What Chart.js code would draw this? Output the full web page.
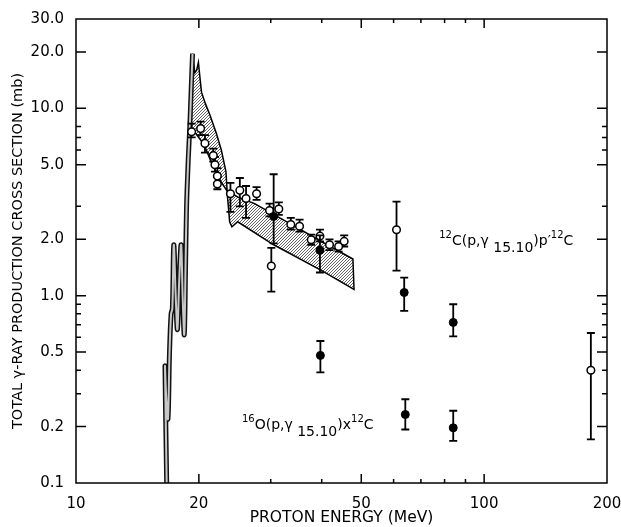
<!DOCTYPE html>
<html>
<head>
<meta charset="utf-8">
<script src="https://cdn.jsdelivr.net/npm/chart.js@4.4.1/dist/chart.umd.min.js"></script>
<style>
  html, body { margin: 0; padding: 0; background: #fff; }
</style>
</head>
<body>
<canvas id="xsec" width="621" height="527"></canvas>
<script>
// axis ticks
const xTicks = [10, 20, 50, 100, 200];
const xMinor = [30, 40, 60, 70, 80, 90];
const yTicks = [0.1, 0.2, 0.5, 1, 2, 5, 10, 20, 30];
const yMinor = [0.3, 0.4, 0.6, 0.7, 0.8, 0.9, 3, 6, 7, 8];

// calculation: narrow resonance ribbon at low energy
const ribbonE = [16.68, 16.6, 16.52, 16.62, 16.8, 16.95, 17.1, 17.22, 17.36, 17.55, 17.72, 17.9, 18.1, 18.25, 18.42, 18.55, 18.66, 18.85, 19.0, 19.15, 19.3];
const ribbonY = [0.1, 0.2, 0.42, 0.3, 0.22, 0.5, 0.8, 0.85, 1.87, 1.0, 0.66, 1.2, 1.87, 1.0, 0.62, 1.4, 3.0, 5.5, 7.9, 12.5, 19.6];

// calculation: shaded band outline
const bandE = [19.05, 19.3, 19.55, 19.75, 19.95, 20.15, 20.3, 20.75, 21.3, 22.1, 22.7, 23.3, 23.5, 23.8, 24.1, 24.9, 30.5, 40, 48, 47.7, 40, 34.9, 30.7, 27.4, 25, 23.4, 22.6, 21.5, 20.6, 19.6, 19.05];
const bandY = [7.4, 19.6, 15.5, 16, 17.6, 14.2, 12.2, 10.6, 9.2, 7.3, 6.0, 4.6, 3.4, 2.47, 2.33, 2.48, 1.87, 1.36, 1.08, 1.57, 1.94, 2.3, 2.69, 3.1, 3.35, 3.65, 4.1, 5.1, 6.4, 7.4, 7.4];

// 12C(p,γ15.10)p'12C  (open circles)
const openE  = [19.2, 20.2, 20.7, 21.7, 21.9, 22.2, 22.2, 23.9, 25.2, 26.1, 27.7, 29.8, 31.4, 33.6, 35.3, 37.7, 39.6, 41.8, 44.0, 45.4, 30.1, 61.0, 182.6];
const openY  = [7.5, 7.8, 6.5, 5.6, 5.0, 4.35, 3.95, 3.5, 3.65, 3.3, 3.5, 2.85, 2.9, 2.4, 2.35, 1.99, 2.08, 1.87, 1.83, 1.95, 1.44, 2.25, 0.40];
const openLo = [7.0, 7.2, 5.8, 5.2, 4.6, 4.0, 3.7, 2.8, 3.0, 2.6, 3.25, 2.65, 2.7, 2.25, 2.2, 1.87, 1.95, 1.75, 1.72, 1.83, 1.05, 1.36, 0.171];
const openHi = [8.3, 8.5, 7.2, 6.1, 5.5, 4.8, 4.3, 4.0, 4.25, 3.85, 3.8, 3.1, 3.15, 2.6, 2.55, 2.12, 2.25, 2.0, 1.95, 2.1, 1.8, 3.18, 0.632];

// 16O(p,γ15.10)x12C  (filled circles)
const fillE  = [30.5, 39.6, 39.7, 63.7, 84.0, 64.1, 84.0];
const fillY  = [2.65, 1.75, 0.48, 1.04, 0.72, 0.232, 0.197];
const fillLo = [1.9, 1.33, 0.39, 0.83, 0.607, 0.193, 0.168];
const fillHi = [4.45, 2.1, 0.573, 1.25, 0.9, 0.28, 0.243];

const pts = (xs, ys) => xs.map((x, i) => ({ x, y: ys[i] }));
const FONT = '"DejaVu Sans", sans-serif';

const canvas = document.getElementById('xsec');

// fine stipple for the calculated band
const hatch = document.createElement('canvas');
hatch.width = 3;
hatch.height = 3;
const hctx = hatch.getContext('2d');
hctx.fillStyle = '#fff';
hctx.fillRect(0, 0, 3, 3);
hctx.fillStyle = '#666';
hctx.fillRect(0, 2, 1, 1);
hctx.fillRect(1, 1, 1, 1);
hctx.fillRect(2, 0, 1, 1);
const hatchFill = canvas.getContext('2d').createPattern(hatch, 'repeat');

// error bars drawn under the markers
const errorBars = {
  id: 'errorBars',
  beforeDatasetDraw(chart, args) {
    const ds = chart.data.datasets[args.index];
    if (!ds.errLo) return;
    const { ctx, scales: { x, y } } = chart;
    ctx.save();
    ctx.strokeStyle = '#000';
    ctx.lineWidth = 1.8;
    ds.data.forEach((p, i) => {
      const px = x.getPixelForValue(p.x);
      const lo = y.getPixelForValue(ds.errLo[i]);
      const hi = y.getPixelForValue(ds.errHi[i]);
      ctx.beginPath();
      ctx.moveTo(px, lo); ctx.lineTo(px, hi);
      ctx.moveTo(px - 4, lo); ctx.lineTo(px + 4, lo);
      ctx.moveTo(px - 4, hi); ctx.lineTo(px + 4, hi);
      ctx.stroke();
    });
    ctx.restore();
  }
};

// box with inward ticks on all four sides, plus reaction labels
const frame = {
  id: 'frame',
  afterDraw(chart) {
    const { ctx, chartArea: a, scales: { x, y } } = chart;
    ctx.save();
    ctx.strokeStyle = '#000';
    ctx.lineWidth = 1.5;
    ctx.strokeRect(a.left, a.top, a.right - a.left, a.bottom - a.top);
    ctx.beginPath();
    const xt = (vals, len) => vals.forEach(v => {
      const px = x.getPixelForValue(v);
      ctx.moveTo(px, a.bottom); ctx.lineTo(px, a.bottom - len);
      ctx.moveTo(px, a.top); ctx.lineTo(px, a.top + len);
    });
    const yt = (vals, len) => vals.forEach(v => {
      const py = y.getPixelForValue(v);
      ctx.moveTo(a.left, py); ctx.lineTo(a.left + len, py);
      ctx.moveTo(a.right, py); ctx.lineTo(a.right - len, py);
    });
    xt(xTicks.slice(1, -1), 9);
    xt(xMinor, 4);
    yt(yTicks.slice(1, -1), 10);
    yt(yMinor, 5);
    ctx.stroke();

    ctx.fillStyle = '#000';
    ctx.textBaseline = 'alphabetic';
    const label = (e, v, parts) => {
      let cx = x.getPixelForValue(e);
      const cy = y.getPixelForValue(v);
      parts.forEach(([txt, size, dy]) => {
        ctx.font = size + 'px ' + FONT;
        ctx.fillText(txt, cx, cy + dy);
        cx += ctx.measureText(txt).width;
      });
    };
    label(77.6, 1.87, [['12', 10, -7], ['C(p,\u03b3 ', 14, 0], ['15.10', 14, 7], [')p\u2032', 14, 0], ['12', 10, -7], ['C', 14, 0]]);
    label(25.5, 0.194, [['16', 10, -7], ['O(p,\u03b3 ', 14, 0], ['15.10', 14, 7], [')x', 14, 0], ['12', 10, -7], ['C', 14, 0]]);
    ctx.restore();
  }
};

new Chart(canvas, {
  type: 'scatter',
  data: {
    datasets: [
      {
        label: 'band',
        data: pts(bandE, bandY),
        showLine: true,
        fill: 'shape',
        backgroundColor: hatchFill,
        borderColor: '#000',
        borderWidth: 1.5,
        pointRadius: 0,
        order: 5
      },
      {
        label: 'ribbon',
        data: pts(ribbonE, ribbonY),
        showLine: true,
        tension: 0.35,
        borderColor: '#111',
        borderWidth: 5,
        pointRadius: 0,
        order: 4
      },
      {
        label: 'ribbon fill',
        data: pts(ribbonE, ribbonY),
        showLine: true,
        tension: 0.35,
        borderColor: '#c8c8c8',
        borderWidth: 2,
        pointRadius: 0,
        order: 3
      },
      {
        label: '12C',
        data: pts(openE, openY),
        errLo: openLo,
        errHi: openHi,
        pointRadius: 3.8,
        pointBackgroundColor: '#fff',
        pointBorderColor: '#000',
        pointBorderWidth: 1.5,
        order: 2
      },
      {
        label: '16O',
        data: pts(fillE, fillY),
        errLo: fillLo,
        errHi: fillHi,
        pointRadius: 4,
        pointBackgroundColor: '#000',
        pointBorderColor: '#000',
        pointBorderWidth: 1,
        order: 1
      }
    ]
  },
  options: {
    responsive: false,
    animation: false,
    layout: { padding: { top: 19, right: 14, left: 0, bottom: 0 } },
    plugins: { legend: { display: false }, tooltip: { enabled: false } },
    scales: {
      x: {
        type: 'logarithmic',
        min: 10,
        max: 200,
        afterBuildTicks: s => { s.ticks = xTicks.map(v => ({ value: v })); },
        afterFit: s => { s.height = 44; s.paddingLeft = 0; s.paddingRight = 0; },
        ticks: {
          autoSkip: false,
          maxRotation: 0,
          padding: 4,
          color: '#000',
          font: { family: FONT, size: 15 },
          callback: v => String(v)
        },
        grid: { display: false },
        border: { display: false },
        title: {
          display: true,
          text: 'PROTON ENERGY (MeV)',
          color: '#000',
          font: { family: FONT, size: 15.5 },
          padding: { top: 0, bottom: 0 }
        }
      },
      y: {
        type: 'logarithmic',
        min: 0.1,
        max: 30,
        afterBuildTicks: s => { s.ticks = yTicks.map(v => ({ value: v })); },
        afterFit: s => { s.width = 76; s.paddingTop = 0; s.paddingBottom = 0; },
        ticks: {
          autoSkip: false,
          padding: 4,
          color: '#000',
          font: { family: FONT, size: 15 },
          callback: v => v.toFixed(1)
        },
        grid: { display: false },
        border: { display: false },
        title: {
          display: true,
          text: 'TOTAL \u03b3-RAY PRODUCTION CROSS SECTION (mb)',
          color: '#000',
          font: { family: FONT, size: 14.5 },
          padding: { top: 10, bottom: 0 }
        }
      }
    }
  },
  plugins: [errorBars, frame]
});
</script>
</body>
</html>
